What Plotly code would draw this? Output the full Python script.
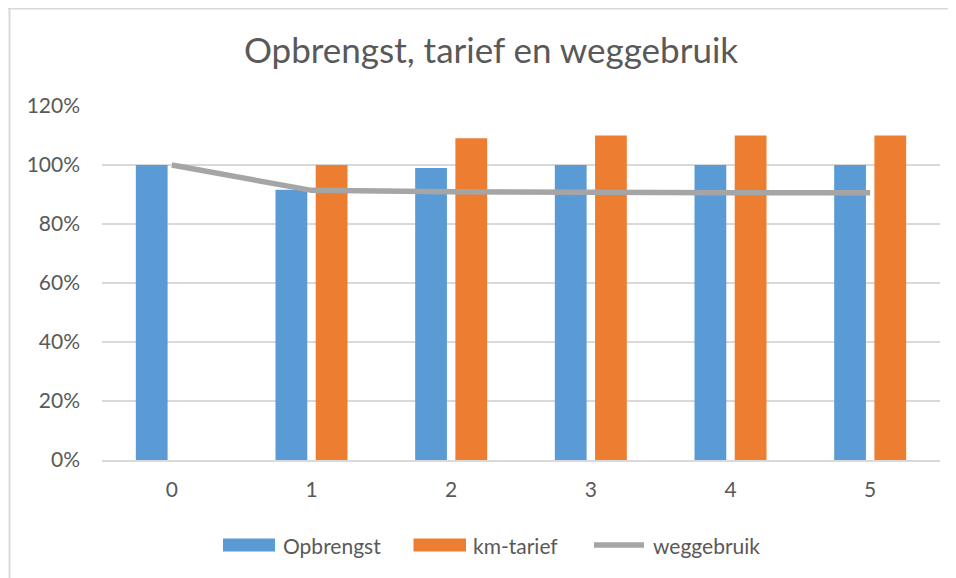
import plotly.graph_objects as go

categories = ["0", "1", "2", "3", "4", "5"]
opbrengst = [1.00, 0.916, 0.99, 1.00, 1.00, 1.00]
km_tarief = [None, 1.00, 1.091, 1.10, 1.10, 1.10]
weggebruik = [1.00, 0.914, 0.909, 0.906, 0.906, 0.906]
y_ticks = [0, 0.2, 0.4, 0.6, 0.8, 1.0, 1.2]
y_ticktext = ["0%", "20%", "40%", "60%", "80%", "100%", "120%"]
series_names = ["Opbrengst", "km-tarief", "weggebruik"]
series_colors = ["#5b9bd5", "#ed7d31", "#a5a5a5"]

FONT = "Lato"
TXT = "#595959"

fig = go.Figure()
fig.add_trace(go.Bar(x=categories, y=opbrengst, name=series_names[0], showlegend=False,
                     marker=dict(color=series_colors[0], line=dict(width=0))))
fig.add_trace(go.Bar(x=categories, y=km_tarief, name=series_names[1], showlegend=False,
                     marker=dict(color=series_colors[1], line=dict(width=0))))
fig.add_trace(go.Scatter(x=categories, y=weggebruik, name=series_names[2], mode="lines",
                         showlegend=False, line=dict(color=series_colors[2], width=5.5)))

# page body has an 8px margin, so the figure is laid out 8px smaller
W, H = 948, 570
L, R, T, B = 94, 16, 98, 118
pw = W - L - R
ph = H - T - B


def px_x(p):
    return (p - L) / pw


def px_y(p):
    return (H - B - p) / ph


# chart frame: only its left and top edges are visible
shapes = [
    dict(type="line", xref="paper", yref="paper", x0=px_x(1.5), x1=px_x(1.5),
         y0=px_y(0), y1=px_y(H), line=dict(color="#d9d9d9", width=2), layer="below"),
    dict(type="line", xref="paper", yref="paper", x0=px_x(0), x1=px_x(W),
         y0=px_y(0.5), y1=px_y(0.5), line=dict(color="#d9d9d9", width=2), layer="below"),
]

# legend drawn as wide swatches like the original
leg_y = 537
swatch_x = [(215, 267), (405.5, 458), (584, 638)]
text_x = [273, 463, 643]
annotations = []
for i, name in enumerate(series_names):
    x0, x1 = swatch_x[i]
    if i < 2:
        shapes.append(dict(type="rect", xref="paper", yref="paper",
                           x0=px_x(x0), x1=px_x(x1), y0=px_y(leg_y + 6.5), y1=px_y(leg_y - 6.5),
                           line=dict(width=0), fillcolor=series_colors[i]))
    else:
        shapes.append(dict(type="line", xref="paper", yref="paper",
                           x0=px_x(x0 + 2), x1=px_x(x1 - 2), y0=px_y(leg_y), y1=px_y(leg_y),
                           line=dict(width=5.5, color=series_colors[i])))
    annotations.append(dict(text=name, xref="paper", yref="paper", x=px_x(text_x[i]),
                            y=px_y(leg_y), xanchor="left", yanchor="middle", showarrow=False,
                            font=dict(size=21, color=TXT, family=FONT)))

fig.update_layout(
    width=W, height=H,
    margin=dict(l=L, r=R, t=T, b=B, pad=0),
    paper_bgcolor="white", plot_bgcolor="white",
    font=dict(family=FONT, color=TXT, size=21),
    title=dict(text="Opbrengst, tarief en weggebruik", xref="container", x=483 / W,
               xanchor="center", yref="container", y=1 - 43 / H, yanchor="middle",
               font=dict(size=35, color=TXT, family=FONT)),
    barmode="group", bargap=0.424, bargroupgap=0.21,
    showlegend=False,
    xaxis=dict(type="category", showgrid=False, showline=True, linecolor="#d9d9d9", linewidth=1.5,
               ticks="", tickfont=dict(size=21, color=TXT), ticklabelstandoff=10),
    yaxis=dict(range=[0, 1.2], tickvals=y_ticks, ticktext=y_ticktext, showgrid=True,
               gridcolor="#d9d9d9", gridwidth=1.5, zeroline=False, showline=False, ticks="",
               tickfont=dict(size=21, color=TXT), ticklabelstandoff=21),
    shapes=shapes,
    annotations=annotations,
)

fig.write_html("out.html")
